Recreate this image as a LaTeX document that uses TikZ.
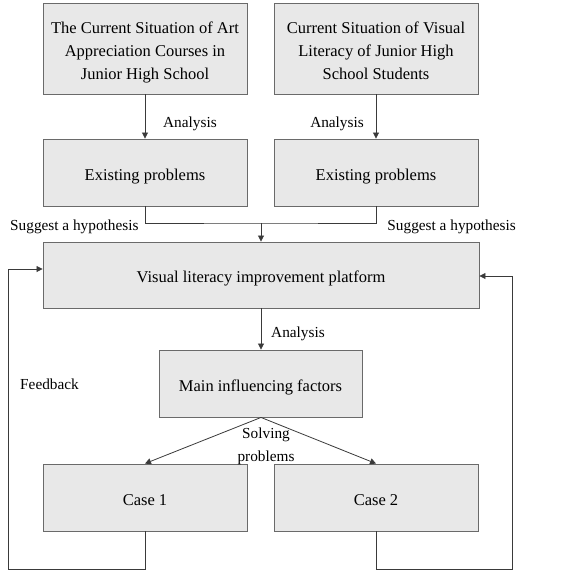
\documentclass[tikz,border=0pt]{standalone}
\usepackage{fontspec}
\setmainfont{Liberation Serif}
\usetikzlibrary{arrows.meta}
\definecolor{boxfill}{HTML}{E8E8E8}
\definecolor{boxline}{HTML}{6A6A6A}
\definecolor{arrline}{HTML}{3A3A3A}
\newcommand{\dnbox}[1]{\raisebox{-3pt}[\height][\depth]{\begin{tabular}{@{}c@{}}#1\end{tabular}}}
\begin{document}
\begin{tikzpicture}[x=1pt,y=-1pt,
  box/.style={draw=boxline,fill=boxfill,line width=0.9pt,inner sep=0pt,align=center,
    font=\fontsize{16.5}{23}\selectfont},
  lab/.style={inner sep=0pt,font=\fontsize{15.3}{23}\selectfont,align=center},
  conn/.style={draw=arrline,line width=0.8pt},
  arr/.style={conn,-{Triangle[length=6pt,width=6pt]}}]
\useasboundingbox (0,0) rectangle (580,571);
\fill[white] (0,0) rectangle (580,571);
% boxes
\node[box,minimum width=204,minimum height=91] (tl) at (145,48.5) {\dnbox{The Current Situation of Art\\Appreciation Courses in\\Junior High School}};
\node[box,minimum width=204,minimum height=91] (tr) at (376,48.5) {\dnbox{Current Situation of Visual\\Literacy of Junior High\\School Students}};
\node[box,minimum width=204,minimum height=67] (el) at (145,172.5) {\dnbox{Existing problems}};
\node[box,minimum width=204,minimum height=67] (er) at (376,172.5) {\dnbox{Existing problems}};
\node[box,minimum width=436,minimum height=66] (pf) at (261,275) {\dnbox{Visual literacy improvement platform}};
\node[box,minimum width=203,minimum height=67] (mf) at (260.5,383.5) {\dnbox{Main influencing factors}};
\node[box,minimum width=204,minimum height=67] (c1) at (145,497.5) {\dnbox{Case 1}};
\node[box,minimum width=204,minimum height=67] (c2) at (376,497.5) {\dnbox{Case 2}};
% coordinates
\coordinate (mj) at (261,223);
\coordinate (lbot) at (145,569);
\coordinate (lcorner) at (8,569);
\coordinate (ltop) at (8,269);
\coordinate (rbot) at (376,569);
\coordinate (rcorner) at (512,569);
\coordinate (rtop) at (512,276);
% connectors
\draw[arr] (tl.south) -- (el.north);
\draw[arr] (tr.south) -- (er.north);
\draw[conn] (el.south) |- (mj) -| (er.south);
\draw[arr] (mj) -- (pf.north -| mj);
\draw[arr] (pf.south -| mj) -- (mf.north -| mj);
\draw[arr] (mf.south -| mj) -- (c1.north);
\draw[arr] (mf.south -| mj) -- (c2.north);
\draw[conn] (c1.south) -- (lbot) -- (lcorner) -- (ltop);
\draw[arr] (ltop) -- (pf.west |- ltop);
\draw[conn] (c2.south) -- (rbot) -- (rcorner) -- (rtop);
\draw[arr] (rtop) -- (pf.east |- rtop);
% labels
\node[lab,anchor=west] (a1) at (163,124) {Analysis};
\node[lab,anchor=east] (a2) at (364,124) {Analysis};
\node[lab,anchor=west] (s1) at (10,227) {Suggest a hypothesis};
\node[lab,anchor=east] (s2) at (516,227) {Suggest a hypothesis};
\node[lab,anchor=west] (a3) at (271,334) {Analysis};
\node[lab,anchor=west] (fb) at (20,384) {Feedback};
\node[lab] (sp) at (266,446) {Solving\\problems};
\end{tikzpicture}
\end{document}
